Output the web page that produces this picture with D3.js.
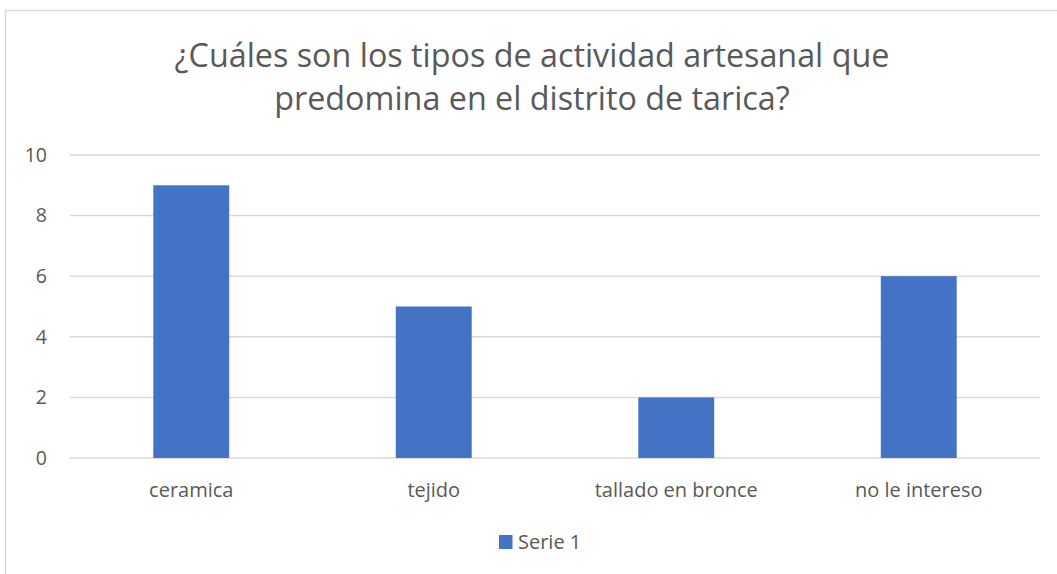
<!DOCTYPE html>
<html><head><meta charset="utf-8">
<script src="https://cdn.jsdelivr.net/npm/d3@7"></script>
<style>html,body{margin:0;padding:0;background:#fff;overflow:hidden}</style>
</head><body>
<svg id="c" width="1057" height="574"></svg>
<script>
const categories = ["ceramica", "tejido", "tallado en bronce", "no le intereso"];
const serie1 = [9, 5, 2, 6];
const seriesName = "Serie 1";
const yTicks = [0, 2, 4, 6, 8, 10];
const titleLines = ["¿Cuáles son los tipos de actividad artesanal que", "predomina en el distrito de tarica?"];

const svg = d3.select("#c");
const font = "'Open Sans', sans-serif";
const textColor = "#595959";

// chart border
svg.append("rect").attr("x", 5.5).attr("y", 10.5).attr("width", 1100).attr("height", 600)
  .attr("fill", "#fff").attr("stroke", "#d9d9d9").attr("stroke-width", 1.5);

const x = d3.scaleBand().domain(categories).range([70, 1040]).paddingInner(0.687).paddingOuter(0.3435);
const y = d3.scaleLinear().domain([0, 10]).range([458, 155]);

// title
svg.append("g").selectAll("text").data(titleLines).join("text")
  .attr("x", 532).attr("y", (d, i) => 67 + i * 43)
  .attr("text-anchor", "middle").attr("font-family", font).attr("font-size", 32.3)
  .attr("fill", textColor).text(d => d);

// gridlines
svg.append("g").selectAll("line").data(yTicks).join("line")
  .attr("x1", 70).attr("x2", 1040).attr("y1", d => y(d)).attr("y2", d => y(d))
  .attr("stroke", "#d9d9d9").attr("stroke-width", 1.5);

// y axis labels
const yAxis = d3.axisLeft(y).tickValues(yTicks).tickSize(0).tickPadding(23);
const ga = svg.append("g").attr("transform", "translate(70,0)").call(yAxis);
ga.select(".domain").remove();
ga.selectAll("text").attr("font-family", font).attr("font-size", 19.5).attr("fill", textColor);

// bars
svg.append("g").selectAll("rect").data(serie1).join("rect")
  .attr("x", (d, i) => x(categories[i])).attr("width", x.bandwidth())
  .attr("y", d => y(d)).attr("height", d => y(0) - y(d))
  .attr("fill", "#4472c4");

// x axis labels
const xAxis = d3.axisBottom(x).tickSize(0).tickPadding(24.5);
const gx = svg.append("g").attr("transform", "translate(0,458)").call(xAxis);
gx.select(".domain").remove();
gx.selectAll("text").attr("font-family", font).attr("font-size", 20).attr("fill", textColor);

// legend
const lg = svg.append("g");
lg.append("rect").attr("x", 499).attr("y", 535).attr("width", 13.5).attr("height", 14).attr("fill", "#4472c4");
lg.append("text").attr("x", 518).attr("y", 549).attr("font-family", font).attr("font-size", 20)
  .attr("fill", textColor).text(seriesName);
</script>
</body></html>
